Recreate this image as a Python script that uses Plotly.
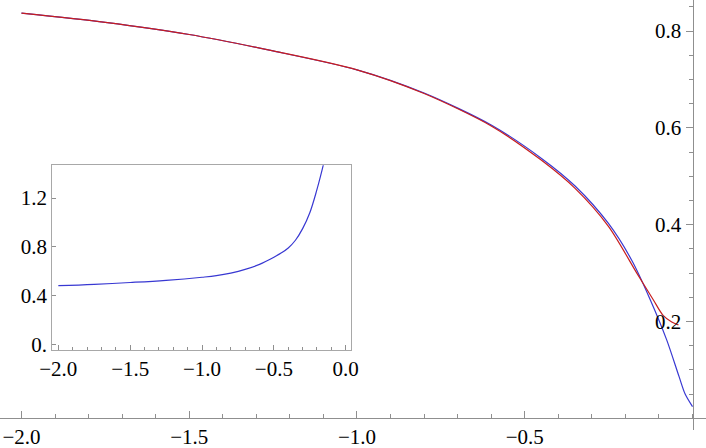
import plotly.graph_objects as go

# main plot: two nearly coincident curves
blue_x = [-2.0, -1.75, -1.5, -1.25, -1.0, -0.8, -0.6, -0.45, -0.35, -0.25,
          -0.18, -0.126, -0.077, -0.04, -0.022, 0.0]
blue_y = [0.837, 0.818, 0.793, 0.759, 0.720, 0.672, 0.606, 0.537, 0.480, 0.402,
          0.325, 0.245, 0.162, 0.086, 0.050, 0.024]

red_x = [-2.0, -1.75, -1.5, -1.25, -1.0, -0.8, -0.6, -0.45, -0.35, -0.25,
         -0.166, -0.117, -0.087, -0.062, -0.042]
red_y = [0.837, 0.818, 0.793, 0.759, 0.720, 0.671, 0.604, 0.533, 0.475, 0.396,
         0.300, 0.245, 0.212, 0.199, 0.193]

# inset curve
inset_x = [-2.0, -1.75, -1.5, -1.25, -1.0, -0.9, -0.8, -0.7, -0.6, -0.5,
           -0.45, -0.4, -0.35, -0.3, -0.25, -0.2, -0.175, -0.15]
inset_y = [0.484, 0.495, 0.510, 0.528, 0.553, 0.566, 0.587, 0.617, 0.658, 0.716,
           0.750, 0.792, 0.855, 0.950, 1.080, 1.270, 1.380, 1.500]

main_xticks = [-2.0, -1.5, -1.0, -0.5]
main_yticks = [0.2, 0.4, 0.6, 0.8]
inset_xticks = [-2.0, -1.5, -1.0, -0.5, 0.0]
inset_yticks = [0.0, 0.4, 0.8, 1.2]
inset_ylabels = ['0.', '0.4', '0.8', '1.2']

BLUE = '#3838d2'
RED = '#c81e1e'
AXIS = '#8f8f8f'
FONT = dict(family='Liberation Serif', size=21, color='black')

fig = go.Figure()

fig.add_trace(go.Scatter(x=blue_x, y=blue_y, mode='lines',
                         line=dict(color=BLUE, width=1.2, shape='spline', smoothing=0.8),
                         xaxis='x', yaxis='y'))
fig.add_trace(go.Scatter(x=red_x, y=red_y, mode='lines',
                         line=dict(color=RED, width=1.2, shape='spline', smoothing=0.8),
                         xaxis='x', yaxis='y'))
fig.add_trace(go.Scatter(x=inset_x, y=inset_y, mode='lines',
                         line=dict(color=BLUE, width=1.2, shape='spline', smoothing=1.1),
                         xaxis='x2', yaxis='y2'))

fig.update_layout(
    width=706, height=448,
    margin=dict(l=0, r=0, t=0, b=0),
    paper_bgcolor='white', plot_bgcolor='white',
    showlegend=False,
    font=FONT,
    xaxis=dict(
        range=[-2.064, 0.0402], domain=[0, 1],
        anchor='free', position=0.0663,
        showgrid=False, zeroline=False,
        showline=True, linecolor=AXIS, linewidth=1,
        tickmode='array', tickvals=main_xticks, tickformat='.1f',
        ticks='inside', ticklen=7, tickcolor=AXIS,
        minor=dict(dtick=0.1, tick0=0, ticks='inside', ticklen=4, tickcolor=AXIS),
        tickfont=FONT, automargin=False,
    ),
    yaxis=dict(
        range=[-0.0242, 0.8643], domain=[0.0402, 1],
        anchor='free', position=0.9809, side='left',
        showgrid=False, zeroline=False,
        showline=True, linecolor=AXIS, linewidth=1,
        tickmode='array', tickvals=main_yticks, tickformat='.1f',
        ticks='outside', ticklen=7, tickcolor=AXIS,
        minor=dict(dtick=0.05, tick0=0, ticks='outside', ticklen=4, tickcolor=AXIS),
        tickfont=FONT, automargin=False,
    ),
    xaxis2=dict(
        range=[-2.0418, 0.0334], domain=[0.0741, 0.4965],
        anchor='y2',
        showgrid=False, zeroline=False,
        showline=True, mirror=True, linecolor='#a8a8a8', linewidth=1,
        tickmode='array', tickvals=inset_xticks, tickformat='.1f',
        ticks='inside', ticklen=5, tickcolor=AXIS,
        minor=dict(dtick=0.1, tick0=0, ticks='inside', ticklen=3, tickcolor=AXIS),
        tickfont=FONT, automargin=False,
    ),
    yaxis2=dict(
        range=[-0.041, 1.467], domain=[0.2188, 0.631],
        anchor='x2',
        showgrid=False, zeroline=False,
        showline=True, mirror=True, linecolor='#a8a8a8', linewidth=1,
        tickmode='array', tickvals=inset_yticks, ticktext=inset_ylabels,
        ticks='inside', ticklen=4, tickcolor=AXIS,
        tickfont=FONT, automargin=False,
    ),
)

# page body has a default 8px margin; drop it so the figure sits at the window origin
fig.write_html("out.html", config={'displayModeBar': False},
               post_script="document.body.style.margin='0';")
